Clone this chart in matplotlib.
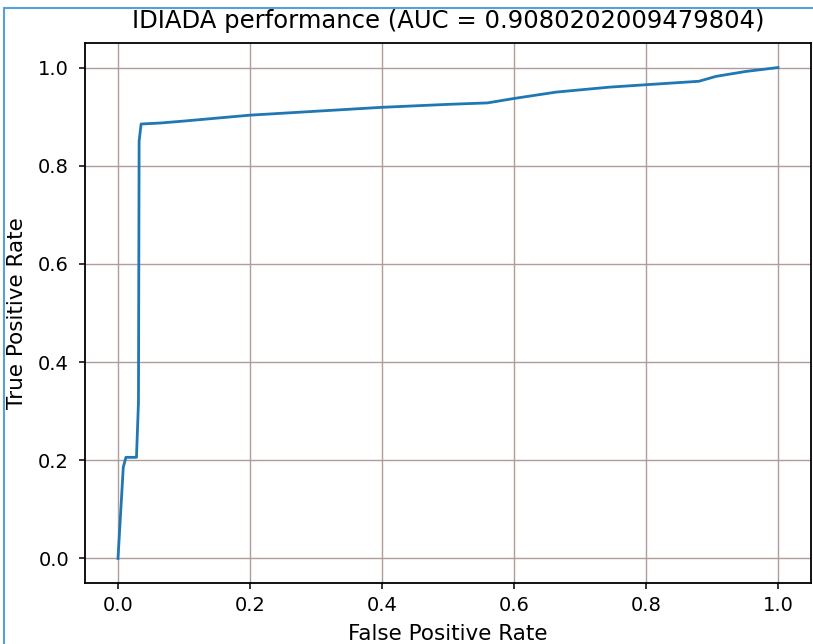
import matplotlib
matplotlib.use("Agg")
import matplotlib.pyplot as plt
from matplotlib.patches import Rectangle

# ROC curve points
fpr = [0.0, 0.008, 0.012, 0.028, 0.031, 0.032, 0.035, 0.064, 0.10, 0.20,
       0.30, 0.40, 0.50, 0.56, 0.60, 0.664, 0.744, 0.80, 0.88, 0.906,
       0.951, 1.0]
tpr = [0.0, 0.186, 0.206, 0.206, 0.318, 0.85, 0.885, 0.887, 0.891, 0.903,
       0.911, 0.919, 0.925, 0.928, 0.937, 0.950, 0.960, 0.965, 0.972, 0.982,
       0.992, 1.0]
auc = "0.9080202009479804"

fig = plt.figure(figsize=(8.13, 6.44), dpi=100)
ax = fig.add_axes([85 / 813, 1 - 583 / 644, 726 / 813, 540 / 644])

ax.plot(fpr, tpr, color="#1f77b4", lw=2.0)
ax.set_xlim(-0.05, 1.05)
ax.set_ylim(-0.05, 1.05)
ax.set_xticks([0.0, 0.2, 0.4, 0.6, 0.8, 1.0])
ax.set_yticks([0.0, 0.2, 0.4, 0.6, 0.8, 1.0])
ax.grid(True, color="#b09c98", lw=1.0)
ax.tick_params(labelsize=14, length=4.5, width=1.1)
ax.tick_params(axis="x", pad=5)
ax.tick_params(axis="y", pad=7)
for s in ax.spines.values():
    s.set_linewidth(1.3)

ax.set_title("IDIADA performance (AUC = %s)" % auc, fontsize=17.5, pad=11)
ax.set_xlabel("False Positive Rate", fontsize=15.5)
ax.set_ylabel("True Positive Rate", fontsize=15.5)
ax.xaxis.set_label_coords(0.5, -0.076)
ax.yaxis.set_label_coords(-0.080, 0.5)

# light blue frame around the picture
fig.patches.append(Rectangle((0.005, -0.01), 1.1, 0.998, transform=fig.transFigure,
                             fill=False, ec="#5aa0d8", lw=1.5))

fig.savefig("out.png", dpi=100)
